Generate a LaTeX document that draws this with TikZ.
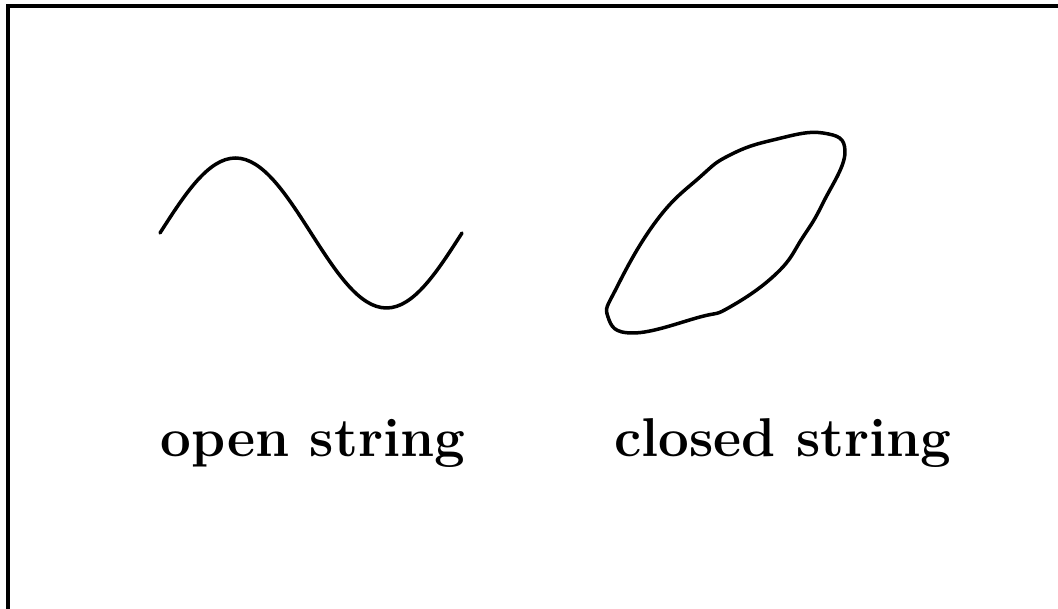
\documentclass[tikz,border=0pt]{standalone}
\usepackage{tikz}
\usetikzlibrary{positioning}

\tikzset{
  frameline/.style={line width=0.04cm},
  stringline/.style={line width=0.035cm, line join=round, line cap=round},
  caption/.style={font=\fontsize{15.55pt}{18pt}\selectfont\bfseries, anchor=base, inner sep=0pt}
}

\begin{document}
\begin{tikzpicture}[x=1cm, y=1cm]
\useasboundingbox (0,0) rectangle (10.58,6.09);

% Frame (only top and left edges show)
\draw[frameline] (10.60,6.03) -- (0.08,6.03) -- (0.08,-0.02);

% Open string: one period of a sine wave
\draw[stringline] (1.60,3.76) sin (2.355,4.51) cos (3.11,3.76)
                  sin (3.865,3.01) cos (4.62,3.76);

% Closed string: a smooth loop
\draw[stringline] plot[smooth cycle, tension=0.75] coordinates {
  (8.23,4.76) (8.45,4.57) (8.23,4.06) (8.03,3.72) (7.77,3.36)
  (7.30,3.02) (7.00,2.92) (6.33,2.76) (6.08,2.92) (6.17,3.22)
  (6.57,3.89) (7.00,4.32) (7.30,4.54) (7.73,4.69)};

% Labels
\node[caption] (openlabel) at (3.13,1.52) {open string};
\node[caption] (closedlabel) at (7.83,1.52) {closed string};
\end{tikzpicture}
\end{document}
